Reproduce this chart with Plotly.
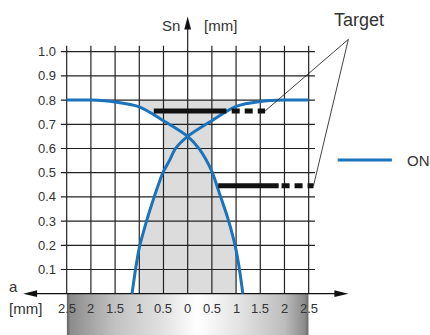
import base64
import plotly.graph_objects as go

# --- data ---
x_ticks = [-2.5, -2.0, -1.5, -1.0, -0.5, 0.0, 0.5, 1.0, 1.5, 2.0, 2.5]
x_tick_labels = ['2.5', '2', '1.5', '1', '0.5', '0', '0.5', '1', '1.5', '2', '2.5']
y_ticks = [0.1, 0.2, 0.3, 0.4, 0.5, 0.6, 0.7, 0.8, 0.9, 1.0]
y_tick_labels = ['0.1', '0.2', '0.3', '0.4', '0.5', '0.6', '0.7', '0.8', '0.9', '1.0']

# curve coming from the left (flat at 0.8 on the left, falling to the right)
curve_a_x = [-2.5, -2.0, -1.5, -1.0, -0.5, 0.0, 0.25, 0.5, 0.63, 0.75, 0.84, 0.93, 1.0, 1.07, 1.14]
curve_a_y = [0.80, 0.80, 0.792, 0.772, 0.715, 0.65, 0.595, 0.505, 0.43, 0.36, 0.305, 0.24, 0.18, 0.10, 0.0]
# curve coming from the right (flat at 0.8 on the right, falling to the left)
curve_b_x = [2.5, 2.0, 1.5, 1.0, 0.5, 0.0, -0.25, -0.37, -0.5, -0.57, -0.78, -0.9, -1.0, -1.07, -1.15]
curve_b_y = [0.80, 0.80, 0.794, 0.774, 0.715, 0.65, 0.6, 0.553, 0.505, 0.47, 0.346, 0.265, 0.19, 0.11, 0.0]

# target bars: solid part then dashed part
target_hi_y = 0.755
target_hi_solid = [-0.7, 0.8]
target_hi_dash = [0.91, 1.6]
target_lo_y = 0.446
target_lo_solid = [0.63, 1.88]
target_lo_dash = [1.94, 2.6]

TXT = '#333333'
BLUE = '#1a74bd'
FONT = 'Liberation Sans, Arial, sans-serif'

fig = go.Figure()

# grey zone (built from the curve readings)
band_lo = 1.0
col = 0.5
poly_x, poly_y = [-band_lo, band_lo], [0.8, 0.8]
for x, y in zip(curve_b_x, curve_b_y):
    if col <= x <= band_lo:
        poly_x.append(x); poly_y.append(y)
for x, y in zip(curve_a_x, curve_a_y):
    if col <= x <= band_lo:
        poly_x.append(x); poly_y.append(y)
poly_x += [band_lo, -band_lo]
poly_y += [0.0, 0.0]
for x, y in zip(reversed(curve_b_x), reversed(curve_b_y)):
    if -band_lo <= x <= -col:
        poly_x.append(x); poly_y.append(y)
for x, y in zip(reversed(curve_a_x), reversed(curve_a_y)):
    if -band_lo <= x <= -col:
        poly_x.append(x); poly_y.append(y)
fig.add_trace(go.Scatter(x=poly_x, y=poly_y, fill='toself', fillcolor='#dcdcdc',
                         mode='lines', line=dict(width=0), hoverinfo='skip'))

# grid
gx, gy = [], []
for yv in y_ticks:
    gx += [-2.62, 2.63, None]
    gy += [yv, yv, None]
for xv in x_ticks:
    if xv == 0:
        continue
    gx += [xv, xv, None]
    gy += [0, 1.025, None]
fig.add_trace(go.Scatter(x=gx, y=gy, mode='lines', line=dict(color='#222222', width=1.2),
                         hoverinfo='skip'))

# axes
fig.add_trace(go.Scatter(x=[-3.30, 3.22], y=[0, 0], mode='lines',
                         line=dict(color='#111111', width=1.2), hoverinfo='skip'))
fig.add_trace(go.Scatter(x=[0, 0], y=[0, 1.10], mode='lines',
                         line=dict(color='#222222', width=1.2), hoverinfo='skip'))
for xa, path in [(-3.40, 'M0,0 L14,3.4 L14,-3.4 Z'), (3.32, 'M0,0 L-14,3.4 L-14,-3.4 Z')]:
    fig.add_shape(type='path', xref='x', yref='y', xsizemode='pixel', ysizemode='pixel',
                  xanchor=xa, yanchor=0, path=path, fillcolor='#111111', line_width=0)
fig.add_shape(type='path', xref='x', yref='y', xsizemode='pixel', ysizemode='pixel',
              xanchor=0, yanchor=1.145, path='M0,0 L-3.4,-13 L3.4,-13 Z',
              fillcolor='#111111', line_width=0)

# curves
fig.add_trace(go.Scatter(x=curve_a_x, y=curve_a_y, mode='lines',
                         line=dict(color=BLUE, width=3, shape='spline', smoothing=0.8)))
fig.add_trace(go.Scatter(x=curve_b_x, y=curve_b_y, mode='lines',
                         line=dict(color=BLUE, width=3, shape='spline', smoothing=0.8)))

# targets
for yv, solid, dash in [(target_hi_y, target_hi_solid, target_hi_dash),
                        (target_lo_y, target_lo_solid, target_lo_dash)]:
    fig.add_trace(go.Scatter(x=solid, y=[yv, yv], mode='lines',
                             line=dict(color='#111111', width=5)))
    fig.add_trace(go.Scatter(x=dash, y=[yv, yv], mode='lines',
                             line=dict(color='#111111', width=5, dash='8px,5px')))

# leader lines to "Target"
apex = (3.32, 1.051)
fig.add_trace(go.Scatter(x=[target_hi_dash[1], apex[0], target_lo_dash[1]],
                         y=[target_hi_y, apex[1], target_lo_y], mode='lines',
                         line=dict(color='#111111', width=0.8)))

# legend
fig.add_trace(go.Scatter(x=[3.10, 4.22], y=[0.552, 0.552], mode='lines',
                         line=dict(color=BLUE, width=3)))

# gradient strip under the x axis
svg = ('<svg xmlns="http://www.w3.org/2000/svg" width="240" height="40" preserveAspectRatio="none">'
       '<defs><linearGradient id="g" x1="0" x2="1" y1="0" y2="0">'
       '<stop offset="0" stop-color="#5e5e5e"/><stop offset="0.015" stop-color="#8c8c8c"/>'
       '<stop offset="0.2" stop-color="#c2c2c2"/><stop offset="0.4" stop-color="#e2e2e2"/>'
       '<stop offset="0.54" stop-color="#ffffff"/><stop offset="0.72" stop-color="#e2e2e2"/>'
       '<stop offset="0.9" stop-color="#bdbdbd"/><stop offset="0.985" stop-color="#8a8a8a"/>'
       '<stop offset="1" stop-color="#666666"/></linearGradient></defs>'
       '<rect width="240" height="40" fill="url(#g)"/></svg>')
src = 'data:image/svg+xml;base64,' + base64.b64encode(svg.encode()).decode()
fig.add_layout_image(source=src, xref='x', yref='y', x=-2.5, y=0, sizex=5, sizey=0.18,
                     xanchor='left', yanchor='top', sizing='stretch', layer='below')

ann = []
for xv, lab in zip(x_ticks, x_tick_labels):
    ann.append(dict(x=xv, y=-0.06, text=lab, showarrow=False, xanchor='center', yanchor='middle',
                    font=dict(size=13, color=TXT)))
for yv, lab in zip(y_ticks, y_tick_labels):
    ann.append(dict(x=-2.68, y=yv, text=lab, showarrow=False, xanchor='right', yanchor='middle',
                    font=dict(size=13, color=TXT)))
ann += [
    dict(x=-0.345, y=1.11, text='Sn', showarrow=False, font=dict(size=15, color=TXT)),
    dict(x=0.684, y=1.11, text='[mm]', showarrow=False, font=dict(size=15, color=TXT)),
    dict(x=-3.59, y=0.03, text='a', showarrow=False, font=dict(size=15, color=TXT)),
    dict(x=-3.35, y=-0.06, text='[mm]', showarrow=False, font=dict(size=15, color=TXT)),
    dict(x=3.54, y=1.131, text='Target', showarrow=False, font=dict(size=18, color=TXT)),
    dict(x=4.49, y=0.552, text='ON', showarrow=False, xanchor='left',
         font=dict(size=15, color=TXT)),
]

fig.update_layout(
    width=430, height=335,
    margin=dict(l=0, r=0, t=0, b=0),
    paper_bgcolor='white', plot_bgcolor='white',
    showlegend=False,
    hovermode=False,
    font=dict(family=FONT, color=TXT),
    xaxis=dict(range=[-3.878, 5.007], visible=False, fixedrange=True),
    yaxis=dict(range=[-0.1707, 1.2136], visible=False, fixedrange=True),
    annotations=ann,
)

# drop the default page margin / scrollbars so the figure fills the window
fig.write_html("out.html", config={'displayModeBar': False}, post_script=(
    "document.body.style.margin='0';"
    "document.documentElement.style.overflow='hidden';"))
